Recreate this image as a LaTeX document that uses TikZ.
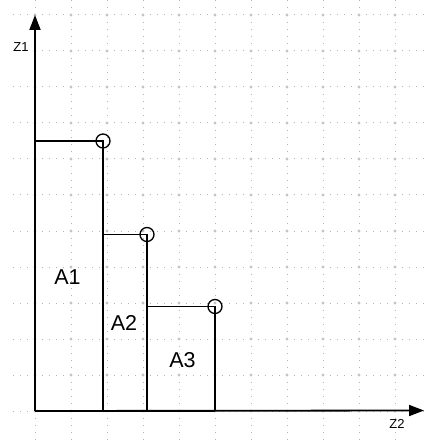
\documentclass[tikz,border=0pt]{standalone}
\usepackage{fontspec}
\setmainfont{Liberation Sans}
\usetikzlibrary{arrows.meta}
\definecolor{gridc}{HTML}{B4B4B4}
\tikzset{
  gridline/.style={gridc, line width=1bp, dash pattern=on 1.2bp off 6bp},
  gridmark/.style={circle, fill=gridc!80, inner sep=0pt, minimum size=3.2bp},
  axis/.style={line width=1.8bp, -{Triangle[length=15bp,width=11bp]}},
  stepline/.style={line width=1.5bp},
  marker/.style={circle, draw, line width=1.3bp, minimum size=14bp, inner sep=0pt},
  lab/.style={font=\fontsize{21.5bp}{24bp}\selectfont, inner sep=0pt},
  axlab/.style={font=\fontsize{13bp}{15bp}\selectfont, inner sep=0pt}
}
\begin{document}
\begin{tikzpicture}[x=1bp,y=-1bp]
\useasboundingbox (0,0) rectangle (424,440);
% grid
\foreach \yy in {15,51,87,123,159,195,231,267,303,339,375,411}{
  \draw[gridline] (12.8,\yy) -- (424,\yy);
}
\foreach \xx in {35,71,107,143,179,215,251,287,323,359,395}{
  \draw[gridline] (\xx,0) -- (\xx,440);
  \foreach \yy in {15,51,87,123,159,195,231,267,303,339,375,411}{
    \node[gridmark] at (\xx,\yy) {};
  }
}
% axes
\coordinate (o) at (35,411);
\coordinate (ytip) at (35,15);
\coordinate (xtip) at (424,410.5);
\draw[axis] (o) -- (ytip);
\draw[axis] (o) -- (xtip);
\node[axlab] (z1) at (21,47.5) {Z1};
\node[axlab] (z2) at (397,423.5) {Z2};
% steps
\node[marker] (c1) at (103,141) {};
\node[marker] (c2) at (147,234.5) {};
\node[marker] (c3) at (215,306.5) {};
\coordinate (h1) at (35,141);
\coordinate (h2) at (103,234.5);
\coordinate (h3) at (147,306.5);
\coordinate (b1) at (103,411);
\coordinate (b2) at (147,411);
\coordinate (b3) at (215,411);
\draw[stepline] (h1) -- (c1.center) -- (b1);
\draw[stepline] (h2) -- (c2.center) -- (b2);
\draw[stepline] (h3) -- (c3.center) -- (b3);
\draw[stepline] (o) -- (b3);
% labels
\node[lab] (a1) at (67.5,277) {A1};
\node[lab] (a2) at (124,323) {A2};
\node[lab] (a3) at (182.5,360) {A3};
\end{tikzpicture}
\end{document}
